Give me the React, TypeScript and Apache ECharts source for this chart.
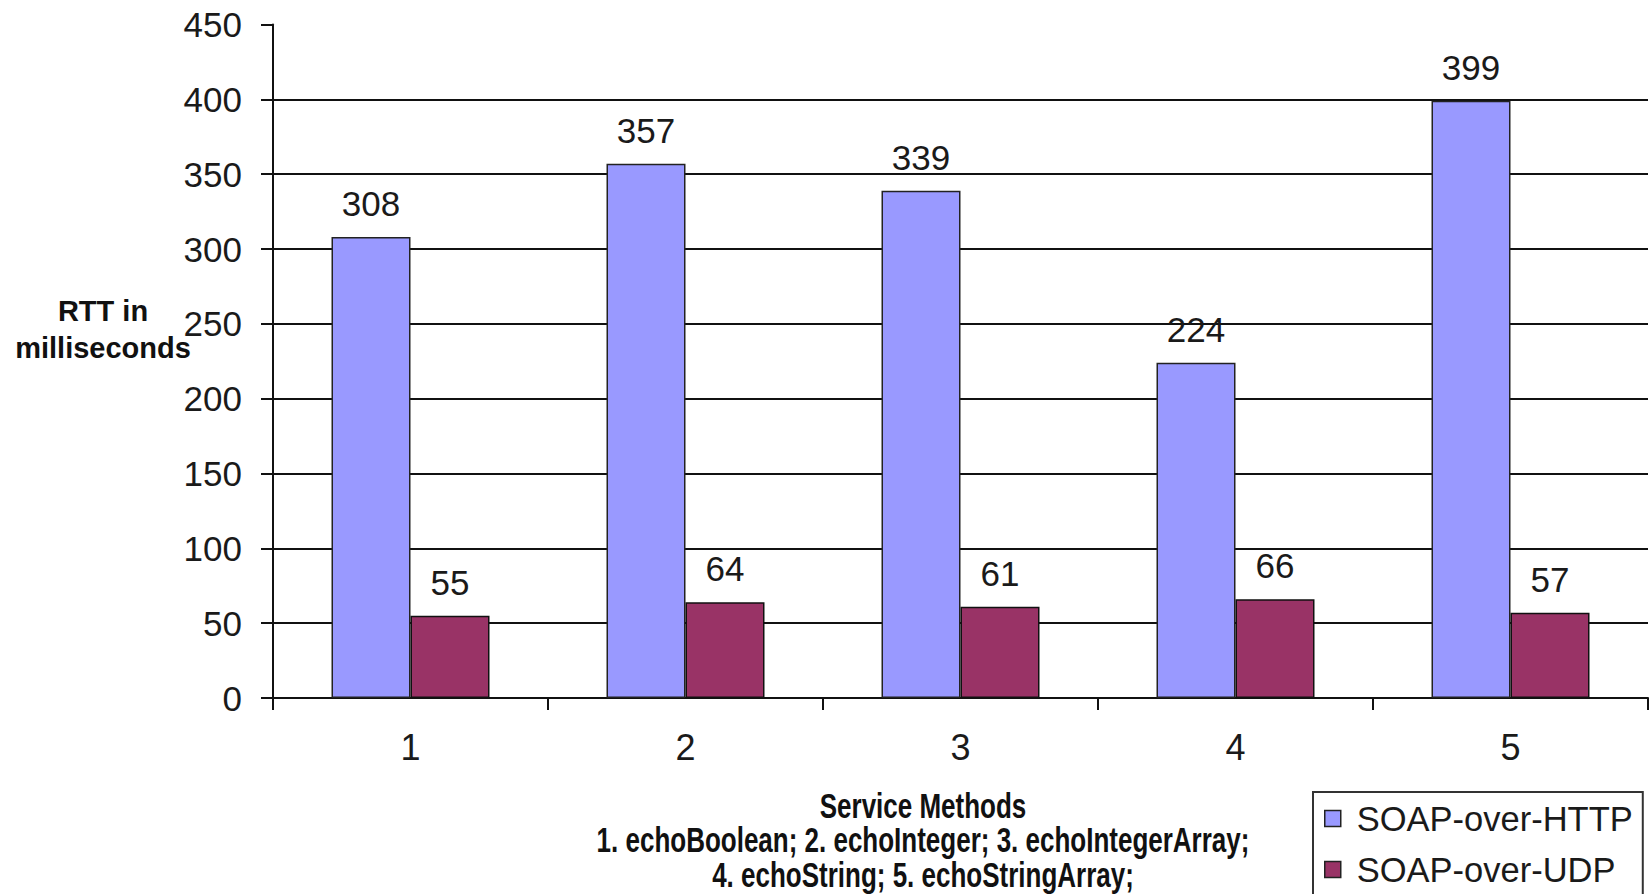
import React, { useEffect, useRef } from "react";
import * as echarts from "echarts";

const categories = ["1", "2", "3", "4", "5"];
const httpValues = [308, 357, 339, 224, 399];
const udpValues = [55, 64, 61, 66, 57];
const seriesNames = ["SOAP-over-HTTP", "SOAP-over-UDP"];
const yAxisTitle = "RTT in\nmilliseconds";
const xAxisTitle =
  "Service Methods\n1. echoBoolean; 2. echoInteger; 3. echoIntegerArray;\n4. echoString; 5. echoStringArray;";

const FONT = "'Liberation Sans', Arial, sans-serif";
const INK = "#1a1a1a";

export default function App() {
  const ref = useRef<HTMLDivElement>(null);
  useEffect(() => {
    document.body.style.margin = "0";
    const chart = echarts.init(ref.current!, null, { renderer: "svg" });
    const labelStyle = {
      show: true,
      position: "top" as const,
      distance: 16,
      fontFamily: FONT,
      fontSize: 35,
      color: INK,
    };
    chart.setOption({
      animation: false,
      backgroundColor: "#ffffff",
      grid: {
        left: 273,
        right: 1,
        top: 24.5,
        bottom: 196,
        containLabel: false,
        outerBoundsMode: "none",
      },
      legend: {
        orient: "vertical",
        left: 1313,
        top: 792,
        width: 340,
        height: 300,
        padding: [9, 10, 10, 11],
        itemGap: 16,
        itemWidth: 16,
        itemHeight: 16,
        icon: "rect",
        borderColor: "#333",
        borderWidth: 2,
        borderRadius: 0,
        backgroundColor: "#fff",
        textStyle: {
          fontFamily: FONT,
          fontSize: 34.5,
          color: INK,
          padding: [0, 0, 0, 11],
        },
        itemStyle: { borderColor: "#222", borderWidth: 1.5 },
        data: seriesNames,
      },
      xAxis: {
        type: "category",
        data: categories,
        boundaryGap: true,
        axisLine: { show: true, lineStyle: { color: "#111", width: 2 } },
        axisTick: {
          show: true,
          inside: false,
          length: 12,
          alignWithLabel: false,
          lineStyle: { color: "#111", width: 2 },
        },
        axisLabel: {
          margin: 31,
          fontFamily: FONT,
          fontSize: 36,
          color: INK,
        },
        splitLine: { show: false },
      },
      yAxis: {
        type: "value",
        min: 0,
        max: 450,
        interval: 50,
        axisLine: { show: true, lineStyle: { color: "#111", width: 2 } },
        axisTick: {
          show: true,
          inside: false,
          length: 12,
          lineStyle: { color: "#111", width: 2 },
        },
        axisLabel: {
          margin: 31,
          fontFamily: FONT,
          fontSize: 35,
          color: INK,
        },
        splitLine: {
          show: true,
          showMaxLine: false,
          lineStyle: { color: "#111", width: 2 },
        },
      },
      graphic: [
        {
          type: "text",
          x: 103,
          y: 329.5,
          style: {
            text: yAxisTitle,
            x: 0,
            y: 0,
            textAlign: "center",
            textVerticalAlign: "middle",
            fontFamily: FONT,
            fontWeight: "bold",
            fontSize: 29,
            lineHeight: 37,
            fill: "#111",
          },
        },
        {
          type: "text",
          x: 923,
          y: 840,
          scaleY: 1.33,
          style: {
            text: xAxisTitle,
            x: 0,
            y: 0,
            textAlign: "center",
            textVerticalAlign: "middle",
            fontFamily: FONT,
            fontWeight: "bold",
            fontSize: 26,
            lineHeight: 26,
            fill: "#111",
          },
        },
      ],
      series: [
        {
          name: seriesNames[0],
          type: "bar",
          data: httpValues,
          barWidth: 79,
          barGap: "0%",
          itemStyle: { color: "#9999FF", borderColor: "#222", borderWidth: 1.5 },
          label: labelStyle,
        },
        {
          name: seriesNames[1],
          type: "bar",
          data: udpValues,
          barWidth: 79,
          barGap: "0%",
          itemStyle: { color: "#993366", borderColor: "#111", borderWidth: 1.5 },
          label: labelStyle,
        },
      ],
    });
    return () => chart.dispose();
  }, []);
  return <div ref={ref} style={{ width: 1649, height: 894 }} />;
}
